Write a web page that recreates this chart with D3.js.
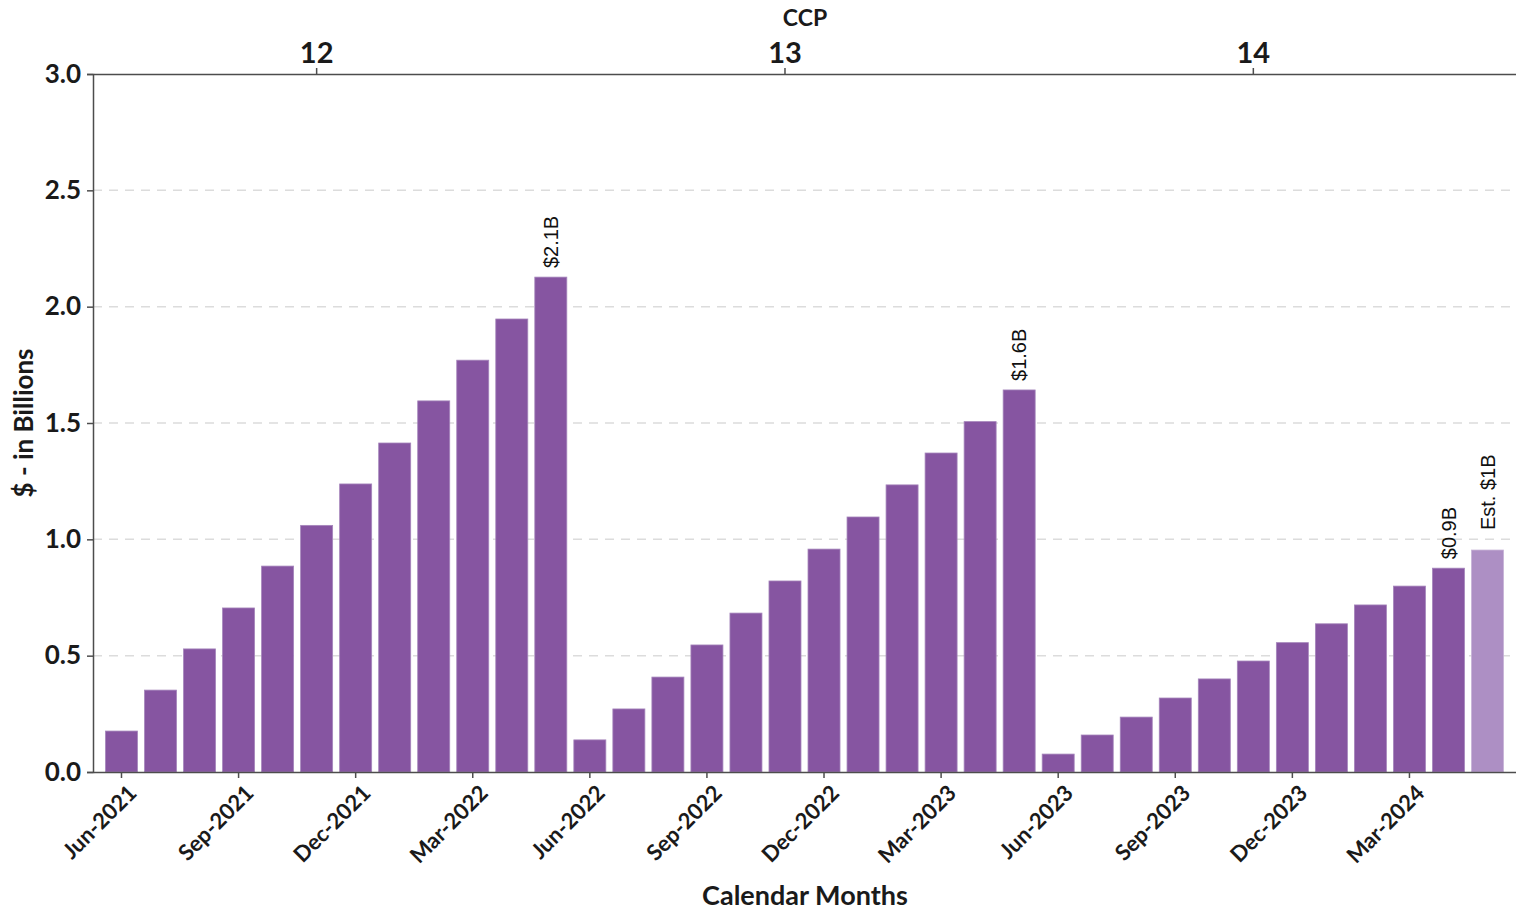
<!DOCTYPE html>
<html>
<head>
<meta charset="utf-8">
<script src="https://cdn.jsdelivr.net/npm/d3@7"></script>
<style>
  html, body { margin: 0; padding: 0; background: #fff; }
  svg { display: block; }
</style>
</head>
<body>
<svg id="chart" width="1516" height="910"></svg>
<script>
// ---- Data ----
const months = [
  "Jun-2021","Jul-2021","Aug-2021","Sep-2021","Oct-2021","Nov-2021","Dec-2021","Jan-2022","Feb-2022","Mar-2022","Apr-2022","May-2022",
  "Jun-2022","Jul-2022","Aug-2022","Sep-2022","Oct-2022","Nov-2022","Dec-2022","Jan-2023","Feb-2023","Mar-2023","Apr-2023","May-2023",
  "Jun-2023","Jul-2023","Aug-2023","Sep-2023","Oct-2023","Nov-2023","Dec-2023","Jan-2024","Feb-2024","Mar-2024","Apr-2024","May-2024"
];
const values = [
  0.176, 0.352, 0.529, 0.705, 0.885, 1.060, 1.238, 1.414, 1.595, 1.770, 1.947, 2.127,
  0.138, 0.271, 0.408, 0.546, 0.683, 0.821, 0.958, 1.096, 1.234, 1.371, 1.506, 1.642,
  0.077, 0.159, 0.236, 0.318, 0.400, 0.477, 0.556, 0.637, 0.718, 0.799, 0.876, 0.954
];
const estimatedMonths = ["May-2024"];
const xTickLabels = ["Jun-2021","Sep-2021","Dec-2021","Mar-2022","Jun-2022","Sep-2022","Dec-2022","Mar-2023","Jun-2023","Sep-2023","Dec-2023","Mar-2024"];
const yTicks = [0, 0.5, 1.0, 1.5, 2.0, 2.5, 3.0];
const ccpLabels = ["12", "13", "14"];
const ccpTickMonths = ["Nov-2021", "Nov-2022", "Nov-2023"];
const annotMonths = ["May-2022", "May-2023", "Apr-2024", "May-2024"];
const annotTexts = ["$2.1B", "$1.6B", "$0.9B", "Est. $1B"];

// ---- Layout ----
const plotL = 93, plotR = 1516, plotT = 74, plotB = 772;
const boldFont = "Lato, 'Open Sans', sans-serif";
const annFont = "'Liberation Sans', Arial, sans-serif";
const textColor = "#1a1a1a";
const axisColor = "#4d4d4d";
const barColor = "#8655a1";
const estColor = "#ad8fc4";

const svg = d3.select("#chart");

const x = d3.scaleBand().domain(months).range([plotL, plotR]).paddingInner(0.18).paddingOuter(0.32);
const y = d3.scaleLinear().domain([0, 3]).range([plotB, plotT]);

// gridlines
svg.append("g").selectAll("line").data(yTicks.filter(t => t > 0 && t < 3)).join("line")
  .attr("x1", plotL).attr("x2", plotR)
  .attr("y1", d => y(d)).attr("y2", d => y(d))
  .attr("stroke", "#dcdcdc").attr("stroke-width", 1.5).attr("stroke-dasharray", "9,7");

// bars
svg.append("g").selectAll("rect").data(months).join("rect")
  .attr("x", d => x(d)).attr("width", x.bandwidth())
  .attr("y", (d, i) => y(values[i]))
  .attr("height", (d, i) => y(0) - y(values[i]))
  .attr("fill", d => estimatedMonths.includes(d) ? estColor : barColor)
  .attr("stroke", d => estimatedMonths.includes(d) ? "#c6b2d6" : "#a585bb")
  .attr("stroke-width", 0.8);

// annotations
svg.append("g").selectAll("text").data(annotMonths).join("text")
  .attr("transform", (d, i) => {
    const v = values[months.indexOf(d)];
    const gap = estimatedMonths.includes(d) ? 20 : 9;
    return `translate(${x(d) + x.bandwidth() / 2},${y(v) - gap}) rotate(-90)`;
  })
  .attr("dy", "0.36em")
  .attr("text-anchor", "start")
  .attr("font-family", annFont).attr("font-size", 20).attr("fill", "#111")
  .text((d, i) => annotTexts[i]);

// y axis
const yAxis = svg.append("g").attr("transform", `translate(${plotL},0)`)
  .call(d3.axisLeft(y).tickValues(yTicks).tickFormat(d3.format(".1f")).tickSize(6).tickPadding(6));
yAxis.select(".domain").attr("stroke", axisColor).attr("stroke-width", 1.5);
yAxis.selectAll(".tick line").attr("stroke", axisColor).attr("stroke-width", 1.5);
yAxis.selectAll(".tick text").attr("font-family", boldFont).attr("font-weight", 700)
  .attr("font-size", 26).attr("fill", textColor);

// x axis (bottom)
const xAxis = svg.append("g").attr("transform", `translate(0,${plotB})`)
  .call(d3.axisBottom(x).tickValues(xTickLabels).tickSize(6).tickSizeOuter(0));
xAxis.select(".domain").attr("stroke", axisColor).attr("stroke-width", 1.5);
xAxis.selectAll(".tick line").attr("stroke", axisColor).attr("stroke-width", 1.5);
xAxis.selectAll(".tick text")
  .attr("font-family", boldFont).attr("font-weight", 700).attr("font-size", 22).attr("fill", textColor)
  .attr("text-anchor", "end")
  .attr("transform", "translate(11,17) rotate(-45)")
  .attr("x", 0).attr("y", 0).attr("dy", "0.35em");

// top axis (CCP)
const xTop = svg.append("g").attr("transform", `translate(0,${plotT})`)
  .call(d3.axisTop(x).tickValues(ccpTickMonths).tickFormat((d, i) => ccpLabels[i]).tickSize(6).tickSizeOuter(0).tickPadding(5));
xTop.select(".domain").attr("stroke", axisColor).attr("stroke-width", 1.5);
xTop.selectAll(".tick text").attr("font-family", boldFont).attr("font-weight", 700)
  .attr("font-size", 29).attr("fill", textColor);
xTop.selectAll(".tick line").attr("stroke", axisColor).attr("stroke-width", 1.5);

// titles
svg.append("text").attr("x", 805).attr("y", 26)
  .attr("text-anchor", "middle").attr("font-family", boldFont).attr("font-weight", 700)
  .attr("font-size", 23).attr("fill", textColor).text("CCP");

svg.append("text").attr("x", 805).attr("y", 905)
  .attr("text-anchor", "middle").attr("font-family", boldFont).attr("font-weight", 700)
  .attr("font-size", 27).attr("fill", textColor).text("Calendar Months");

svg.append("text").attr("transform", `translate(33,${(plotT + plotB) / 2}) rotate(-90)`)
  .attr("text-anchor", "middle").attr("font-family", boldFont).attr("font-weight", 700)
  .attr("font-size", 26).attr("fill", textColor).text("$ - in Billions");
</script>
</body>
</html>
